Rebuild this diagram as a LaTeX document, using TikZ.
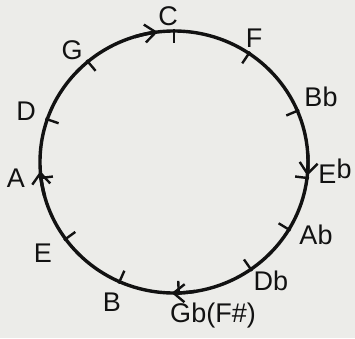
\documentclass[tikz,border=0pt]{standalone}
\usepackage{fontspec}
\setmainfont{Liberation Sans}
\usetikzlibrary{arrows.meta,calc}
\definecolor{paper}{RGB}{236,236,233}
\definecolor{ink}{RGB}{18,18,18}
\begin{document}
\begin{tikzpicture}[x=1pt,y=1pt,
  ring/.style={draw=ink,line width=3.4pt},
  tick/.style={draw=ink,line width=2.4pt},
  flow/.style={draw=ink,line width=3.4pt,-{Straight Barb[length=11pt,width=18pt,line width=2.4pt]}},
  note/.style={text=ink,font=\fontsize{27}{27}\selectfont,inner sep=0pt}]
\fill[paper] (0,0) rectangle (355,338);
\useasboundingbox (0,0) rectangle (355,338);
\coordinate (O) at (174,176);
\draw[ring] (O) ellipse[x radius=134, y radius=131];
% ticks
\foreach \a/\n in {90/tC,56/tF,23/tBb,-7/tEb,-31/tAb,-55/tDb,-88/tGb,-114/tB,-144/tE,-173/tA,161/tD,130/tG}{
  \coordinate (\n o) at ($(O)+(\a:136 and 133)$);
  \coordinate (\n i) at ($(O)+(\a:122 and 119)$);
  \draw[tick] (\n o) -- (\n i);
}
% arrows (clockwise)
\foreach \s/\e in {107/97,4/-6,-81/-91,195/184}{
  \draw[flow] ($(O)+(\s:134 and 131)$) arc[start angle=\s, end angle=\e, x radius=134, y radius=131];
}
% labels
\node[note] (C) at (168,322) {C};
\node[note] (F) at (254,300) {F};
\node[note] (Bb) at (321,241) {Bb};
\node[note] (Eb) at (335,167) {E\raisebox{5pt}{b}};
\node[note] (Ab) at (316,103) {Ab};
\node[note] (Db) at (271,57) {Db};
\node[note] (Gb) at (213,22) {Gb(F\#)};
\node[note] (B) at (112,36) {B};
\node[note] (E) at (43,85) {E};
\node[note] (A) at (16,160) {A};
\node[note] (D) at (26,227) {D};
\node[note] (G) at (72,288) {G};
\end{tikzpicture}
\end{document}
